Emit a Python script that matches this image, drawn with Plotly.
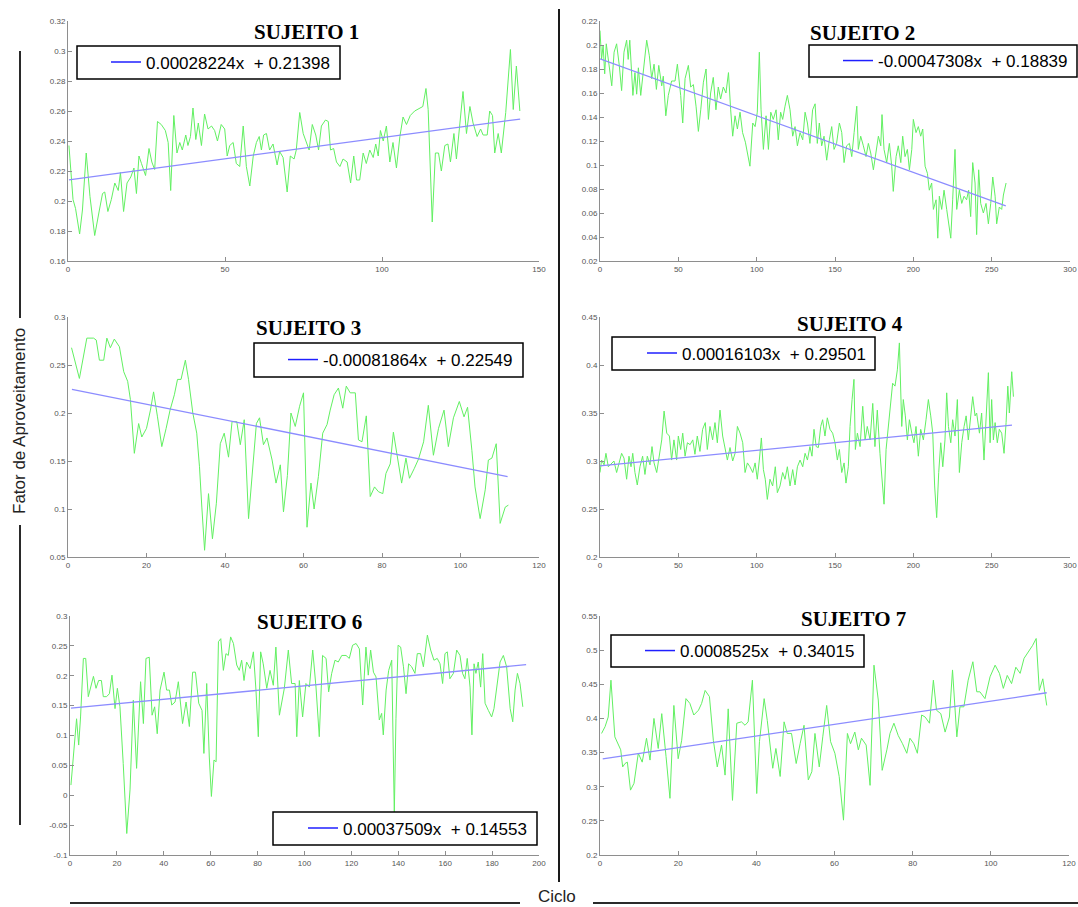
import plotly.graph_objects as go

W, H = 1078, 907

# ---------------- data ----------------
titles = ["SUJEITO 1", "SUJEITO 2", "SUJEITO 3", "SUJEITO 4", "SUJEITO 6", "SUJEITO 7"]

fit_slopes = [0.00028224, -0.00047308, -0.00081864, 0.00016103, 0.00037509, 0.0008525]
fit_intercepts = [0.21398, 0.18839, 0.22549, 0.29501, 0.14553, 0.34015]
fit_labels = ["0.00028224x\u00a0\u00a0+ 0.21398", "-0.00047308x\u00a0\u00a0+ 0.18839",
              "-0.00081864x\u00a0\u00a0+ 0.22549", "0.00016103x\u00a0\u00a0+ 0.29501",
              "0.00037509x\u00a0\u00a0+ 0.14553", "0.0008525x\u00a0\u00a0+ 0.34015"]
fit_x_start = [0.3, 0, 1, 0, 0.4, 0.7]
fit_x_end = [144, 259, 112, 263, 194.5, 114.3]

s1_x = [0.3, 1.6, 2.4, 3.7, 4.6, 5.8, 7.0, 8.5, 10.0, 11.0,
        11.7, 12.7, 13.8, 14.9, 16.0, 16.7, 17.7, 18.8, 20.0, 21.0,
        21.8, 22.6, 23.4, 24.7, 25.8, 26.7, 27.6, 28.5, 29.7, 31.0,
        31.9, 32.7, 33.7, 34.7, 35.6, 36.4, 37.5, 38.2, 39.0, 39.8,
        40.7, 41.5, 42.5, 43.5, 44.6, 45.7, 46.7, 47.6, 48.8, 49.9,
        50.7, 51.5, 52.6, 53.6, 54.7, 55.8, 56.8, 57.9, 59.0, 60.0,
        60.9, 61.6, 62.3, 63.2, 64.2, 65.3, 66.6, 67.4, 68.5, 69.8,
        70.8, 72.0, 72.7, 73.8, 74.9, 76.0, 76.8, 77.8, 78.9, 79.8,
        80.7, 82.0, 82.9, 83.6, 84.6, 85.5, 86.6, 87.6, 88.9, 90.0,
        91.0, 91.9, 92.9, 94.0, 95.0, 96.1, 97.2, 98.0, 98.8, 99.5,
        100.4, 101.4, 102.5, 103.5, 104.6, 105.7, 106.7, 107.8, 109.0, 110.4,
        112.0, 113.0, 114.0, 114.7, 116.0, 117.0, 118.0, 118.9, 120.0, 121.0,
        121.8, 122.9, 123.7, 124.6, 125.8, 126.9, 128.0, 129.0, 130.3, 131.4,
        132.2, 133.5, 134.3, 135.2, 135.9, 137.0, 138.0, 139.4, 140.9, 141.8,
        142.8, 143.9]
s1_y = [0.237, 0.201, 0.195, 0.178, 0.194, 0.232, 0.203, 0.177, 0.194, 0.205,
        0.206, 0.193, 0.201, 0.212, 0.207, 0.219, 0.193, 0.212, 0.216, 0.222,
        0.205, 0.230, 0.225, 0.217, 0.235, 0.226, 0.221, 0.253, 0.251, 0.247,
        0.239, 0.207, 0.257, 0.232, 0.239, 0.234, 0.244, 0.237, 0.243, 0.262,
        0.241, 0.252, 0.237, 0.258, 0.248, 0.250, 0.247, 0.240, 0.251, 0.248,
        0.230, 0.237, 0.239, 0.225, 0.223, 0.250, 0.223, 0.210, 0.230, 0.239,
        0.243, 0.234, 0.244, 0.245, 0.234, 0.238, 0.224, 0.233, 0.229, 0.206,
        0.230, 0.228, 0.234, 0.259, 0.245, 0.239, 0.234, 0.251, 0.244, 0.234,
        0.250, 0.254, 0.253, 0.234, 0.235, 0.226, 0.223, 0.228, 0.226, 0.212,
        0.230, 0.214, 0.214, 0.232, 0.225, 0.234, 0.229, 0.238, 0.230, 0.247,
        0.240, 0.250, 0.226, 0.239, 0.222, 0.243, 0.256, 0.251, 0.257, 0.260,
        0.262, 0.263, 0.275, 0.261, 0.186, 0.232, 0.232, 0.220, 0.237, 0.238,
        0.226, 0.245, 0.228, 0.248, 0.273, 0.245, 0.263, 0.252, 0.243, 0.248,
        0.244, 0.244, 0.260, 0.257, 0.232, 0.245, 0.232, 0.259, 0.301, 0.261,
        0.290, 0.260]

s2_x = [0, 1, 2, 3, 4, 6, 7.5, 9, 10.6, 12.3,
        13.8, 15.3, 17, 18, 19, 21, 22.3, 23.4, 24.5, 26,
        27.7, 29.8, 31.5, 33, 34.5, 36, 37.5, 39.4, 40.4, 42,
        43.6, 45.7, 47.9, 49.4, 51.5, 52.8, 54.3, 56.4, 57.9, 59.6,
        61.3, 62.8, 64.3, 66, 67.7, 69.2, 70.6, 72.3, 74, 75.5,
        77, 78.7, 80.4, 82, 83.4, 84.7, 86.2, 87.7, 89.4, 91,
        92.8, 94.3, 95.7, 97.5, 99, 100.4, 101.7, 102.8, 104.3, 106,
        107.5, 109, 110.6, 112.4, 113.8, 115.3, 116.6, 118.1, 119.6, 121.3,
        123, 124.5, 126, 127.7, 129.4, 130.9, 132.4, 134, 135.7, 137.3,
        138.7, 140, 141.5, 143, 144.7, 146.4, 147.9, 149.4, 151, 152.8,
        154.3, 155.8, 157.4, 159.2, 160.7, 162.2, 163.9, 164.9, 166.4, 168.1,
        169.8, 171.3, 172.8, 174.5, 176.2, 177.7, 179.2, 180, 181.3, 183,
        184.7, 186.2, 187.2, 189, 190.4, 192, 193.2, 194.7, 196.2, 197.5,
        199, 200, 201.7, 203.2, 204.7, 206, 207.5, 209, 210.2, 211.7,
        212.8, 214.5, 215.6, 216.6, 218.1, 219.6, 221.3, 222.4, 223.9, 225.1,
        226.6, 227.7, 229.4, 230.9, 232.4, 234, 235.3, 236.6, 237.9, 239.4,
        240.4, 241.7, 243, 244.7, 246.4, 247.9, 249.4, 250.7, 252.2, 253.2,
        254.9, 256.4, 257.5, 259.2]
s2_y = [0.212, 0.188, 0.200, 0.176, 0.201, 0.181, 0.166, 0.194, 0.201, 0.183,
        0.162, 0.194, 0.204, 0.188, 0.204, 0.158, 0.177, 0.159, 0.181, 0.158,
        0.179, 0.204, 0.191, 0.172, 0.184, 0.163, 0.183, 0.166, 0.174, 0.141,
        0.158, 0.170, 0.170, 0.184, 0.158, 0.135, 0.172, 0.183, 0.165, 0.167,
        0.149, 0.128, 0.146, 0.169, 0.180, 0.138, 0.160, 0.173, 0.146, 0.165,
        0.155, 0.165, 0.160, 0.177, 0.146, 0.124, 0.141, 0.130, 0.144, 0.127,
        0.119, 0.107, 0.099, 0.135, 0.132, 0.144, 0.194, 0.146, 0.113, 0.141,
        0.113, 0.144, 0.138, 0.146, 0.121, 0.144, 0.138, 0.149, 0.158, 0.146,
        0.124, 0.132, 0.116, 0.127, 0.121, 0.144, 0.135, 0.118, 0.146, 0.151,
        0.118, 0.135, 0.116, 0.124, 0.104, 0.121, 0.132, 0.113, 0.118, 0.135,
        0.127, 0.102, 0.116, 0.118, 0.107, 0.127, 0.149, 0.113, 0.124, 0.116,
        0.107, 0.118, 0.110, 0.096, 0.110, 0.124, 0.116, 0.142, 0.113, 0.102,
        0.118, 0.099, 0.078, 0.107, 0.116, 0.102, 0.124, 0.107, 0.113, 0.096,
        0.113, 0.138, 0.127, 0.132, 0.124, 0.130, 0.099, 0.093, 0.079, 0.085,
        0.063, 0.071, 0.039, 0.074, 0.063, 0.079, 0.063, 0.051, 0.039, 0.071,
        0.113, 0.063, 0.079, 0.068, 0.074, 0.071, 0.079, 0.057, 0.102, 0.085,
        0.042, 0.096, 0.068, 0.060, 0.068, 0.051, 0.068, 0.090, 0.074, 0.051,
        0.065, 0.063, 0.075, 0.085]

s3_x = [0.9, 2.9, 4.8, 6.5, 7.2, 8.0, 9.1, 9.9, 10.8, 11.8,
        13.1, 14.2, 15.2, 15.9, 16.9, 18.0, 18.8, 20.0, 21.0, 21.8,
        22.8, 23.9, 25.0, 26.0, 27.1, 27.9, 28.8, 29.9, 30.7, 31.8,
        32.8, 33.5, 34.1, 34.8, 35.8, 36.8, 37.8, 38.8, 39.8, 40.9,
        41.8, 43.0, 43.9, 44.9, 46.0, 47.3, 48.0, 48.8, 49.8, 50.7,
        52.0, 53.0, 54.1, 54.9, 55.9, 56.8, 57.9, 59.0, 60.0, 60.9,
        61.9, 62.7, 63.8, 64.9, 66.0, 66.8, 67.8, 68.9, 70.0, 70.9,
        71.9, 73.2, 74.0, 74.9, 76.0, 77.0, 78.1, 79.1, 80.2, 81.0,
        82.1, 82.9, 83.9, 85.0, 86.1, 87.0, 88.2, 89.3, 90.6, 91.8,
        93.1, 94.4, 95.8, 96.9, 98.2, 99.7, 100.9, 101.8, 102.9, 103.7,
        105.0, 106.3, 107.1, 108.0, 109.1, 110.1, 111.4, 112.2]
s3_y = [0.268, 0.236, 0.278, 0.278, 0.276, 0.255, 0.255, 0.278, 0.268, 0.277,
        0.269, 0.243, 0.233, 0.214, 0.158, 0.189, 0.175, 0.184, 0.203, 0.222,
        0.196, 0.165, 0.184, 0.203, 0.219, 0.235, 0.235, 0.255, 0.235, 0.200,
        0.179, 0.144, 0.102, 0.057, 0.116, 0.069, 0.106, 0.168, 0.179, 0.154,
        0.191, 0.191, 0.167, 0.193, 0.090, 0.151, 0.189, 0.195, 0.167, 0.174,
        0.151, 0.127, 0.146, 0.097, 0.135, 0.200, 0.186, 0.207, 0.221, 0.081,
        0.127, 0.100, 0.134, 0.179, 0.188, 0.203, 0.219, 0.226, 0.205, 0.228,
        0.221, 0.221, 0.172, 0.170, 0.197, 0.113, 0.123, 0.118, 0.116, 0.137,
        0.147, 0.180, 0.153, 0.127, 0.153, 0.132, 0.142, 0.152, 0.170, 0.208,
        0.156, 0.184, 0.203, 0.165, 0.195, 0.212, 0.196, 0.206, 0.161, 0.123,
        0.090, 0.120, 0.151, 0.153, 0.168, 0.085, 0.102, 0.104]

s4_x = [0, 1, 2.6, 3.8, 5.3, 7.4, 8.9, 10.6, 12.3, 13.8,
        15.3, 17, 18.5, 19.8, 20.9, 22.3, 23.8, 25.5, 27.2, 28.7,
        30.2, 31.9, 33.2, 34.5, 36.2, 37.9, 39.4, 40.9, 42.6, 44.3,
        45.7, 47.2, 48.9, 50, 51.5, 52.8, 54.3, 55.8, 57.5, 59.2,
        60.6, 62.1, 63.8, 65.5, 67.2, 68.5, 70.2, 71.9, 73.4, 74.9,
        76.6, 78.3, 79.8, 81.3, 83, 84.7, 86.2, 87.7, 89.4, 91.1,
        92.6, 94.1, 95.7, 97.5, 99, 100.4, 101.7, 103, 104.3, 105.5,
        106.8, 108.5, 110.2, 111.9, 113.2, 114.9, 116.6, 118.1, 119.6, 121.3,
        123, 124.5, 126, 127.7, 129.4, 130.9, 132.4, 134, 135.3, 136.6,
        138, 139.4, 140.9, 142.1, 143.6, 145.1, 146.8, 148.5, 150, 151.5,
        152.8, 154.3, 155.8, 157, 158.5, 159.6, 160.9, 162.1, 163, 164.3,
        166, 167.7, 169.2, 170.6, 172.4, 174.1, 175.5, 177, 178.7, 180,
        181.3, 182.6, 184.1, 185.6, 186.8, 188.3, 189.8, 191.1, 192.6, 193.6,
        194.9, 196.2, 197.5, 199, 200.4, 201.7, 203.2, 204.7, 206.4, 208.1,
        209.6, 211.1, 212.4, 213.6, 214.9, 216.2, 217.5, 218.8, 220.2, 221.3,
        222.4, 223.9, 225.1, 226.6, 228.1, 229.4, 230.9, 232.4, 233.7, 235.1,
        236.6, 237.9, 239.4, 240.4, 242.2, 243.6, 245.1, 246.4, 247.9, 249,
        250, 251.1, 252.2, 253.6, 254.9, 256.4, 257.9, 259.2, 260.3, 261.3,
        262.8, 263.9]
s4_y = [0.288, 0.301, 0.296, 0.308, 0.294, 0.298, 0.300, 0.288, 0.298, 0.308,
        0.303, 0.281, 0.305, 0.294, 0.308, 0.288, 0.275, 0.294, 0.305, 0.286,
        0.305, 0.296, 0.315, 0.298, 0.288, 0.305, 0.322, 0.352, 0.329, 0.326,
        0.301, 0.322, 0.301, 0.326, 0.312, 0.329, 0.305, 0.319, 0.317, 0.322,
        0.307, 0.326, 0.310, 0.333, 0.340, 0.312, 0.336, 0.322, 0.340, 0.319,
        0.353, 0.326, 0.315, 0.301, 0.314, 0.300, 0.308, 0.336, 0.329, 0.319,
        0.288, 0.298, 0.294, 0.288, 0.298, 0.281, 0.301, 0.324, 0.291, 0.281,
        0.260, 0.281, 0.274, 0.294, 0.267, 0.274, 0.288, 0.281, 0.294, 0.274,
        0.291, 0.275, 0.294, 0.301, 0.294, 0.308, 0.301, 0.315, 0.305, 0.333,
        0.315, 0.314, 0.336, 0.343, 0.326, 0.345, 0.333, 0.329, 0.319, 0.301,
        0.312, 0.288, 0.298, 0.277, 0.294, 0.336, 0.364, 0.385, 0.312, 0.329,
        0.315, 0.357, 0.322, 0.336, 0.322, 0.360, 0.315, 0.353, 0.308, 0.281,
        0.255, 0.312, 0.336, 0.364, 0.381, 0.378, 0.395, 0.423, 0.336, 0.364,
        0.347, 0.322, 0.343, 0.329, 0.319, 0.336, 0.305, 0.333, 0.322, 0.343,
        0.364, 0.347, 0.329, 0.274, 0.241, 0.288, 0.319, 0.294, 0.322, 0.371,
        0.336, 0.319, 0.343, 0.326, 0.364, 0.288, 0.319, 0.336, 0.347, 0.322,
        0.350, 0.367, 0.347, 0.350, 0.329, 0.350, 0.301, 0.343, 0.392, 0.319,
        0.364, 0.322, 0.340, 0.319, 0.333, 0.329, 0.308, 0.340, 0.378, 0.350,
        0.393, 0.367]

s6_x = [0.4, 1.4, 2.1, 2.8, 3.7, 4.5, 5.7, 6.7, 7.8, 8.8,
        10, 11.1, 12.2, 13.4, 14.2, 15.6, 16.8, 17.9, 19.2, 20.2,
        21.3, 22.7, 24.2, 25.6, 27, 28.4, 30.1, 31.3, 32.4, 33.8,
        35, 36.1, 37.2, 38.4, 40.1, 41.2, 42.4, 43.4, 44.8, 46.2,
        48, 49.5, 50.9, 52.3, 53.5, 54.9, 56.3, 57.1, 58.3, 59.4,
        60.3, 61.4, 62.3, 63.3, 64.3, 65.4, 66.5, 67.5, 68.5, 69.7,
        71.1, 72.2, 73.2, 74.2, 75.3, 76.8, 78.2, 79.3, 80.3, 81.3,
        82.4, 83.9, 85.3, 86.7, 87.8, 89.3, 90.3, 91.4, 93.1, 94.5,
        96, 96.7, 97.8, 99.2, 100.6, 102.1, 103.5, 104.9, 106.3, 107.7,
        109.2, 110.3, 111.6, 113, 114.4, 115.9, 117.7, 119.1, 120.5, 122,
        123.4, 124.8, 126.2, 127.2, 128.2, 129.4, 130.5, 131.9, 132.9, 133.6,
        134.8, 135.9, 137.2, 138.3, 139, 139.9, 141, 142.2, 143.3, 144.4,
        145.7, 147.1, 148.1, 149.5, 150.7, 152.4, 153.8, 155.2, 156.6, 157.8,
        158.9, 159.9, 160.9, 162, 163.5, 164.9, 166.3, 167.4, 168.4, 169.4,
        170.6, 171.4, 172.3, 173.1, 174.1, 175.1, 176, 177, 178.4, 179.8,
        180.8, 182, 183.4, 184.8, 186.2, 187.7, 188.8, 189.8, 190.8, 191.9,
        193.1]
s6_y = [0.017, 0.064, 0.109, 0.128, 0.084, 0.131, 0.229, 0.229, 0.165, 0.179,
        0.199, 0.179, 0.192, 0.192, 0.165, 0.165, 0.170, 0.201, 0.145, 0.179,
        0.148, 0.053, -0.064, 0.009, 0.159, 0.045, 0.190, 0.120, 0.229, 0.231,
        0.134, 0.148, 0.103, 0.176, 0.206, 0.176, 0.176, 0.151, 0.156, 0.190,
        0.120, 0.156, 0.115, 0.206, 0.206, 0.154, 0.142, 0.070, 0.187, 0.064,
        -0.002, 0.059, 0.056, 0.257, 0.262, 0.209, 0.237, 0.234, 0.265, 0.254,
        0.218, 0.209, 0.226, 0.192, 0.223, 0.212, 0.240, 0.176, 0.098, 0.240,
        0.220, 0.179, 0.209, 0.184, 0.248, 0.134, 0.154, 0.179, 0.243, 0.187,
        0.187, 0.098, 0.192, 0.131, 0.187, 0.181, 0.243, 0.181, 0.098, 0.234,
        0.229, 0.173, 0.204, 0.226, 0.223, 0.234, 0.234, 0.229, 0.251, 0.254,
        0.245, 0.151, 0.248, 0.201, 0.243, 0.206, 0.198, 0.126, 0.137, 0.101,
        0.176, 0.209, 0.226, -0.030, 0.128, 0.251, 0.248, 0.215, 0.170, 0.220,
        0.215, 0.204, 0.237, 0.237, 0.215, 0.268, 0.243, 0.226, 0.229, 0.220,
        0.187, 0.237, 0.240, 0.195, 0.204, 0.243, 0.234, 0.204, 0.195, 0.229,
        0.181, 0.101, 0.220, 0.204, 0.223, 0.181, 0.237, 0.154, 0.142, 0.131,
        0.145, 0.181, 0.223, 0.234, 0.215, 0.145, 0.123, 0.176, 0.204, 0.187,
        0.148]

s7_x = [0.4, 1.3, 2.1, 2.8, 3.8, 4.7, 5.3, 5.8, 6.4, 7.0,
        7.8, 8.7, 9.8, 10.8, 11.9, 12.8, 13.8, 14.9, 15.8, 16.9,
        17.9, 18.9, 20.0, 20.9, 22.0, 23.0, 24.0, 25.2, 26.0, 26.9,
        28.0, 29.0, 30.0, 31.1, 32.0, 32.8, 33.9, 35.0, 36.2, 37.1,
        37.9, 39.0, 40.1, 40.8, 42.0, 42.8, 44.2, 45.0, 46.1, 47.1,
        47.9, 49.0, 50.2, 51.2, 52.2, 53.3, 54.2, 55.0, 56.1, 57.0,
        58.0, 59.0, 60.1, 61.2, 62.3, 63.3, 64.1, 65.2, 66.1, 66.9,
        68.1, 69.1, 70.1, 71.2, 72.2, 73.4, 74.2, 75.2, 76.3, 77.4,
        78.5, 79.3, 80.3, 81.2, 82.3, 83.2, 84.3, 85.3, 86.1, 87.2,
        88.3, 89.4, 90.2, 91.3, 92.1, 93.1, 94.2, 95.4, 96.4, 97.2,
        98.5, 99.8, 101.1, 102.2, 103.2, 104.2, 105.3, 106.4, 107.5, 108.5,
        109.6, 110.7, 111.6, 112.4, 113.3, 114.3]
s7_y = [0.378, 0.388, 0.402, 0.456, 0.373, 0.363, 0.354, 0.329, 0.334, 0.336,
        0.295, 0.305, 0.349, 0.336, 0.371, 0.339, 0.400, 0.356, 0.407, 0.344,
        0.283, 0.419, 0.341, 0.368, 0.429, 0.422, 0.405, 0.412, 0.422, 0.441,
        0.432, 0.368, 0.329, 0.361, 0.317, 0.414, 0.280, 0.393, 0.395, 0.390,
        0.395, 0.456, 0.290, 0.366, 0.429, 0.397, 0.327, 0.356, 0.315, 0.395,
        0.378, 0.378, 0.334, 0.363, 0.390, 0.310, 0.322, 0.378, 0.329, 0.373,
        0.419, 0.366, 0.349, 0.315, 0.251, 0.378, 0.363, 0.380, 0.354, 0.371,
        0.361, 0.302, 0.478, 0.427, 0.324, 0.354, 0.378, 0.393, 0.375, 0.363,
        0.349, 0.371, 0.363, 0.349, 0.405, 0.402, 0.393, 0.456, 0.412, 0.407,
        0.380, 0.402, 0.471, 0.373, 0.417, 0.417, 0.456, 0.483, 0.439, 0.439,
        0.429, 0.461, 0.478, 0.466, 0.444, 0.463, 0.451, 0.475, 0.466, 0.488,
        0.497, 0.507, 0.517, 0.441, 0.458, 0.419]

# axis ticks
x_ticks = [[0, 50, 100, 150], [0, 50, 100, 150, 200, 250, 300], [0, 20, 40, 60, 80, 100, 120],
           [0, 50, 100, 150, 200, 250, 300], [0, 20, 40, 60, 80, 100, 120, 140, 160, 180, 200],
           [0, 20, 40, 60, 80, 100, 120]]
y_ticks = [[0.16, 0.18, 0.2, 0.22, 0.24, 0.26, 0.28, 0.3, 0.32],
           [0.02, 0.04, 0.06, 0.08, 0.1, 0.12, 0.14, 0.16, 0.18, 0.2, 0.22],
           [0.05, 0.1, 0.15, 0.2, 0.25, 0.3],
           [0.2, 0.25, 0.3, 0.35, 0.4, 0.45],
           [-0.1, -0.05, 0, 0.05, 0.1, 0.15, 0.2, 0.25, 0.3],
           [0.2, 0.25, 0.3, 0.35, 0.4, 0.45, 0.5, 0.55]]
y_tick_text = [["0.16", "0.18", "0.2", "0.22", "0.24", "0.26", "0.28", "0.3", "0.32"],
               ["0.02", "0.04", "0.06", "0.08", "0.1", "0.12", "0.14", "0.16", "0.18", "0.2", "0.22"],
               ["0.05", "0.1", "0.15", "0.2", "0.25", "0.3"],
               ["0.2", "0.25", "0.3", "0.35", "0.4", "0.45"],
               ["-0.1", "-0.05", "0", "0.05", "0.1", "0.15", "0.2", "0.25", "0.3"],
               ["0.2", "0.25", "0.3", "0.35", "0.4", "0.45", "0.5", "0.55"]]

series_x = [s1_x, s2_x, s3_x, s4_x, s6_x, s7_x]
series_y = [s1_y, s2_y, s3_y, s4_y, s6_y, s7_y]
for a, b in zip(series_x, series_y):
    assert len(a) == len(b), (len(a), len(b))

# ---------------- layout helpers (pixel -> paper) ----------------
def px(x):
    return x / W

def py(y):
    return 1 - y / H

# plot areas in pixels: left, right, top, bottom
areas = [(68, 539, 21, 261), (600, 1070, 21, 261),
         (68, 539, 317, 557), (600, 1070, 317, 557),
         (70, 539, 616, 855), (600, 1069, 616, 855)]
# legend frames (left, top, right, bottom) and start of the legend text
legend_box = [(77, 46, 340, 79), (809, 45, 1077, 77), (254, 343, 523, 377),
              (612, 337, 875, 370), (273, 812, 537, 845), (611, 635, 864, 667)]
legend_text_x = [146, 878, 323, 682, 343, 680]
title_pos = [(306, 32), (862, 33), (308, 328), (850, 324), (309, 622), (853, 619)]

GREEN = "#62f062"
TREND = "#8c8cff"
LEG_BLUE = "#1f1fff"
AXC = "#8e8e8e"
FONT = "Liberation Sans, Arial, sans-serif"

fig = go.Figure()
layout = dict(
    width=W, height=H, autosize=False,
    margin=dict(l=0, r=0, t=0, b=0, pad=0, autoexpand=False),
    paper_bgcolor="white", plot_bgcolor="white",
    showlegend=True,
    shapes=[], annotations=[],
)

def seg(x0, y0, x1, y1, w=2, c="#2a2a2a"):
    return dict(type="line", xref="paper", yref="paper",
                x0=px(x0), y0=py(y0), x1=px(x1), y1=py(y1),
                line=dict(color=c, width=w))

shapes = []
for i in range(6):
    n = "" if i == 0 else str(i + 1)
    xa, ya = "x" + n, "y" + n
    leg = "legend" + n
    L, R, T, B = areas[i]
    fig.add_trace(go.Scatter(x=series_x[i], y=series_y[i], mode="lines",
                             line=dict(color=GREEN, width=1), showlegend=False,
                             xaxis=xa, yaxis=ya, hoverinfo="skip"))
    fx = [fit_x_start[i], fit_x_end[i]]
    fy = [fit_slopes[i] * v + fit_intercepts[i] for v in fx]
    fig.add_trace(go.Scatter(x=fx, y=fy, mode="lines",
                             line=dict(color=TREND, width=1.3), showlegend=False,
                             xaxis=xa, yaxis=ya))
    # legend entry for the trend line
    fig.add_trace(go.Scatter(x=[None], y=[None], mode="lines", name=fit_labels[i],
                             line=dict(color=LEG_BLUE, width=1.5), showlegend=True,
                             legend=leg, xaxis=xa, yaxis=ya))
    xt = x_ticks[i]
    layout["xaxis" + n] = dict(
        domain=[px(L), px(R)], anchor=ya, range=[xt[0], xt[-1]],
        tickvals=xt, ticktext=[str(v) for v in xt],
        showline=True, linecolor=AXC, linewidth=1, ticks="inside", ticklen=4,
        tickcolor=AXC, tickfont=dict(size=8, color="#555", family=FONT),
        showgrid=False, zeroline=False, fixedrange=True, automargin=False)
    yt = y_ticks[i]
    layout["yaxis" + n] = dict(
        domain=[py(B), py(T)], anchor=xa, range=[yt[0], yt[-1]],
        tickvals=yt, ticktext=y_tick_text[i],
        showline=True, linecolor=AXC, linewidth=1, ticks="inside", ticklen=4,
        tickcolor=AXC, tickfont=dict(size=8, color="#555", family=FONT),
        showgrid=False, zeroline=False, fixedrange=True, automargin=False)
    bl, bt, br, bb = legend_box[i]
    shapes.append(dict(type="rect", xref="paper", yref="paper", layer="above",
                       x0=px(bl), y0=py(bb), x1=px(br), y1=py(bt),
                       fillcolor="white", line=dict(color="black", width=1.5)))
    layout[leg] = dict(
        x=px(legend_text_x[i] - 40), y=py((bt + bb) / 2), xanchor="left", yanchor="middle",
        bgcolor="rgba(0,0,0,0)", borderwidth=0,
        font=dict(family=FONT, size=17, color="black"),
        itemclick=False, itemdoubleclick=False)
    tx, ty = title_pos[i]
    layout["annotations"].append(dict(
        text="<b>%s</b>" % titles[i], x=px(tx), y=py(ty), xref="paper", yref="paper",
        xanchor="center", yanchor="middle", showarrow=False,
        font=dict(family="Liberation Serif, Times New Roman, serif", size=21, color="black")))

# axis labels of the whole figure
layout["annotations"].append(dict(
    text="Fator de Aproveitamento", x=px(19), y=py(421), xref="paper", yref="paper",
    xanchor="center", yanchor="middle", textangle=-90, showarrow=False,
    font=dict(family=FONT, size=17, color="#222")))
layout["annotations"].append(dict(
    text="Ciclo", x=px(557), y=0, xref="paper", yref="paper",
    xanchor="center", yanchor="bottom", showarrow=False, borderpad=0,
    font=dict(family=FONT, size=17, color="#222")))

shapes += [
    seg(559, 9, 559, 882, 2, "#1a1a1a"),
    seg(20, 51, 20, 318),
    seg(20, 525, 20, 825),
    seg(70, 903, 520, 903),
    seg(593, 903, 1078, 903),
]
layout["shapes"] = shapes

fig.update_layout(**layout)
fig.write_html(
    "out.html",
    config={"displayModeBar": False},
    post_script="document.body.style.margin='0';document.body.style.padding='0';"
                "document.documentElement.style.overflow='hidden';",
)
